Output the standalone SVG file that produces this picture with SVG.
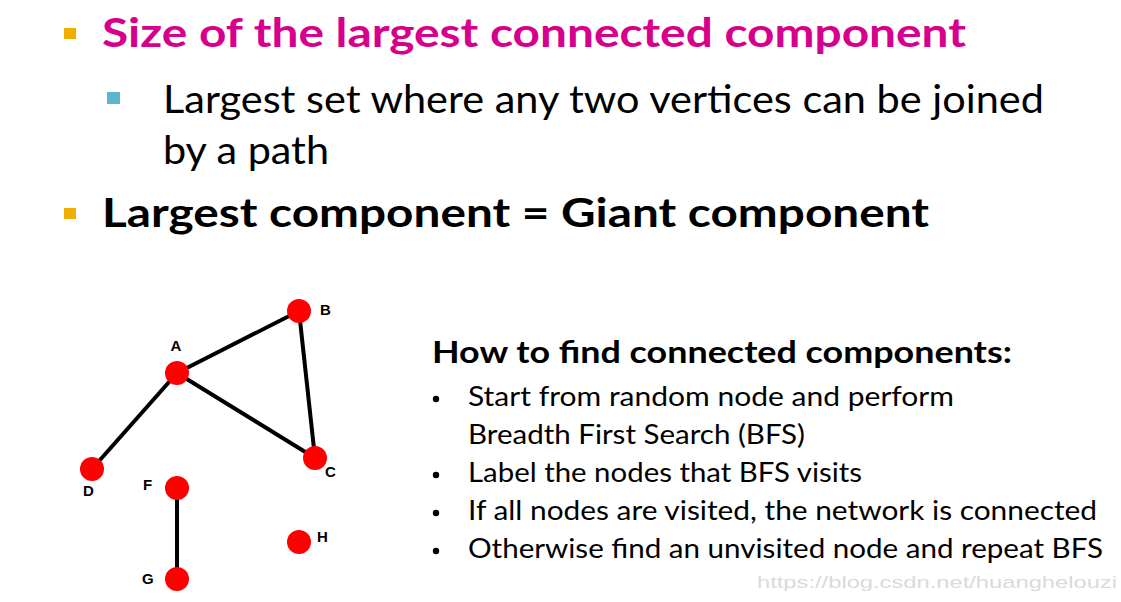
<svg xmlns="http://www.w3.org/2000/svg" width="1121" height="602" viewBox="0 0 1121 602">
<style>
.t{font-family:Lato,"Open Sans",sans-serif;}
.b{font-weight:bold;}
.lbl{font-family:"Liberation Sans",Arial,sans-serif;font-weight:bold;font-size:15px;fill:#000;}
.node{fill:#ff0000;}
.edge{stroke:#000;stroke-width:4;}
</style>
<rect width="1121" height="602" fill="#fff"/>
<g id="text">
<rect x="64" y="28" width="12" height="11" fill="#f0ae00"/>
<text class="t b" x="102" y="47" font-size="40" fill="#d6008c" textLength="864" lengthAdjust="spacingAndGlyphs">Size of the largest connected component</text>
<rect x="107" y="92" width="13" height="12" fill="#5db4cf"/>
<text class="t" x="163" y="113" font-size="38" fill="#000" textLength="881" lengthAdjust="spacingAndGlyphs">Largest set where any two vertices can be joined</text>
<text class="t" x="163" y="164" font-size="38" fill="#000" textLength="166" lengthAdjust="spacingAndGlyphs">by a path</text>
<rect x="64" y="208" width="12" height="11" fill="#f0ae00"/>
<text class="t b" x="102" y="227" font-size="40" fill="#000" textLength="827" lengthAdjust="spacingAndGlyphs">Largest component = Giant component</text>
<text class="t b" x="432" y="363" font-size="30" fill="#000" textLength="580" lengthAdjust="spacingAndGlyphs">How to find connected components:</text>
<circle cx="436" cy="399" r="3.2" fill="#000"/>
<text class="t" x="468" y="406" font-size="27" fill="#000" textLength="486" lengthAdjust="spacingAndGlyphs">Start from random node and perform</text>
<text class="t" x="468" y="444" font-size="27" fill="#000" textLength="337" lengthAdjust="spacingAndGlyphs">Breadth First Search (BFS)</text>
<circle cx="436" cy="475" r="3.2" fill="#000"/>
<text class="t" x="468" y="482" font-size="27" fill="#000" textLength="394" lengthAdjust="spacingAndGlyphs">Label the nodes that BFS visits</text>
<circle cx="436" cy="513" r="3.2" fill="#000"/>
<text class="t" x="468" y="520" font-size="27" fill="#000" textLength="629" lengthAdjust="spacingAndGlyphs">If all nodes are visited, the network is connected</text>
<circle cx="436" cy="551" r="3.2" fill="#000"/>
<text class="t" x="468" y="558" font-size="27" fill="#000" textLength="635" lengthAdjust="spacingAndGlyphs">Otherwise find an unvisited node and repeat BFS</text>
<text x="757" y="588" font-family="Liberation Sans,Arial,sans-serif" font-size="17" fill="#dadada" textLength="360" lengthAdjust="spacingAndGlyphs">https://blog.csdn.net/huanghelouzi</text>
</g>
<g id="connectors">
<line class="edge" x1="177" y1="373" x2="299" y2="311"/>
<line class="edge" x1="177" y1="373" x2="315" y2="458"/>
<line class="edge" x1="299" y1="311" x2="315" y2="458"/>
<line class="edge" x1="177" y1="373" x2="92" y2="469"/>
<line class="edge" x1="177" y1="488" x2="177" y2="579"/>
</g>
<g id="node-A"><circle class="node" cx="177" cy="373" r="12"/><text class="lbl" x="176" y="351" text-anchor="middle">A</text></g>
<g id="node-B"><circle class="node" cx="299" cy="311" r="12"/><text class="lbl" x="320" y="315">B</text></g>
<g id="node-C"><circle class="node" cx="315" cy="458" r="12"/><text class="lbl" x="325" y="477">C</text></g>
<g id="node-D"><circle class="node" cx="92" cy="469" r="12"/><text class="lbl" x="83" y="496">D</text></g>
<g id="node-F"><circle class="node" cx="177" cy="488" r="12"/><text class="lbl" x="143" y="490">F</text></g>
<g id="node-G"><circle class="node" cx="177" cy="579" r="12"/><text class="lbl" x="142" y="584">G</text></g>
<g id="node-H"><circle class="node" cx="299" cy="542" r="12"/><text class="lbl" x="317" y="542">H</text></g>
</svg>
